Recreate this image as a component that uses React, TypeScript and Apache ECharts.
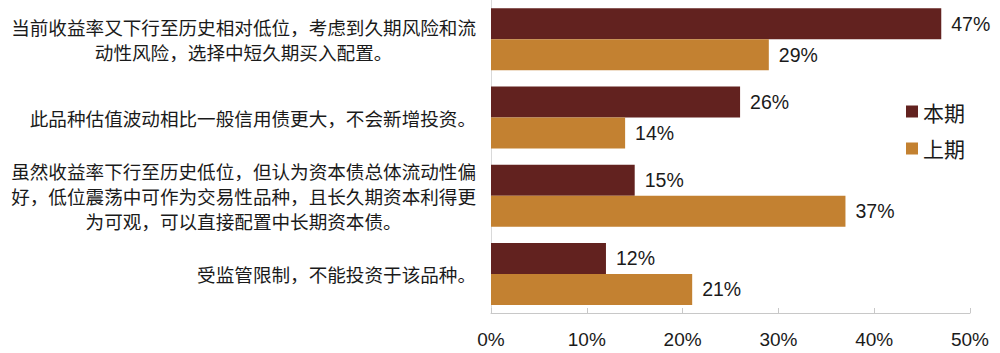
import React, { useEffect, useRef } from "react";
import * as echarts from "echarts";

const categories = [
  "当前收益率又下行至历史相对低位，考虑到久期风险和流\n动性风险，选择中短久期买入配置。",
  "此品种估值波动相比一般信用债更大，不会新增投资。",
  "虽然收益率下行至历史低位，但认为资本债总体流动性偏\n好，低位震荡中可作为交易性品种，且长久期资本利得更\n为可观，可以直接配置中长期资本债。",
  "受监管限制，不能投资于该品种。",
];
const currentValues = [47, 26, 15, 12];
const previousValues = [29, 14, 37, 21];
const seriesNames = ["本期", "上期"];
const xTicks = { min: 0, max: 50, interval: 10 };

export default function App() {
  const ref = useRef<HTMLDivElement>(null);
  useEffect(() => {
    if (!ref.current) return;
    const chart = echarts.init(ref.current, null, { renderer: "svg" });
    const valueLabel = {
      show: true,
      position: "right",
      distance: 10,
      formatter: "{c}%",
      fontSize: 19.5,
      color: "#1a1a1a",
      fontFamily: "Liberation Sans, Arial, sans-serif",
    };
    chart.setOption({
      animation: false,
      backgroundColor: "#ffffff",
      grid: { left: 491, right: 30, top: 0, bottom: 40, containLabel: false },
      legend: {
        orient: "vertical",
        left: 901,
        top: 96,
        itemWidth: 12,
        itemHeight: 12,
        itemGap: 16,
        icon: "rect",
        textStyle: {
          fontSize: 21,
          color: "#1a1a1a",
          fontFamily: "Noto Sans CJK SC, sans-serif",
        },
        data: seriesNames,
      },
      xAxis: {
        type: "value",
        min: xTicks.min,
        max: xTicks.max,
        interval: xTicks.interval,
        axisLine: { show: true, lineStyle: { color: "#c8c8c8", width: 1 } },
        axisTick: { show: true, inside: true, length: 5, lineStyle: { color: "#c8c8c8" } },
        splitLine: { show: false },
        axisLabel: {
          formatter: "{value}%",
          fontSize: 19,
          color: "#1a1a1a",
          margin: 17,
          fontFamily: "Liberation Sans, Arial, sans-serif",
        },
      },
      yAxis: {
        type: "category",
        inverse: true,
        data: categories,
        axisLine: { show: true, lineStyle: { color: "#d9d9d9", width: 1 } },
        axisTick: { show: false },
        axisLabel: {
          margin: 15,
          align: "right",
          formatter: (v: string) =>
            v
              .split("\n")
              .map((l) => `{c|${l}}`)
              .join("\n"),
          rich: {
            c: {
              align: "center",
              fontSize: 18.6,
              lineHeight: 25,
              color: "#1a1a1a",
              fontFamily: "Noto Sans CJK SC, sans-serif",
            },
          },
        },
      },
      series: [
        {
          name: seriesNames[0],
          type: "bar",
          data: currentValues,
          barWidth: 31,
          barGap: "0%",
          itemStyle: { color: "#62221f" },
          label: valueLabel,
        },
        {
          name: seriesNames[1],
          type: "bar",
          data: previousValues,
          barWidth: 31,
          barGap: "0%",
          itemStyle: { color: "#c38131" },
          label: valueLabel,
        },
      ],
    });
    return () => chart.dispose();
  }, []);
  return (
    <div style={{ position: "absolute", left: 0, top: 0, width: 1000, height: 353, background: "#fff" }}>
      <div ref={ref} style={{ width: 1000, height: 353 }} />
    </div>
  );
}
